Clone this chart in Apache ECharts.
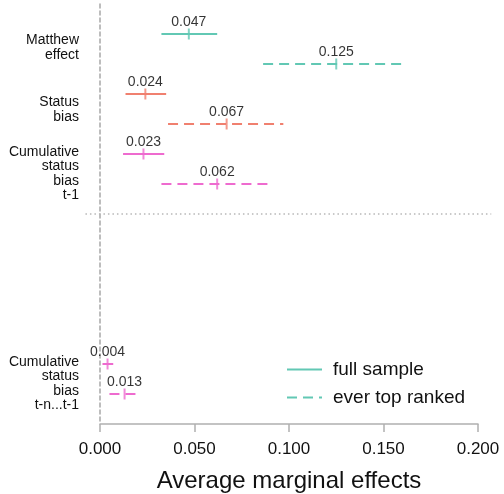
<!DOCTYPE html>
<html>
<head>
<meta charset="utf-8">
<script src="https://cdn.jsdelivr.net/npm/echarts@6/dist/echarts.min.js"></script>
<style>html,body{margin:0;padding:0;background:#fff}#c{width:504px;height:494px}</style>
</head>
<body>
<div id="c"></div>
<script>
// ---- data ----
const categories = ["Matthew\neffect", "Status\nbias", "Cumulative\nstatus\nbias\nt-1", "Cumulative\nstatus\nbias\nt-n...t-1"];
const fullEst = [0.047, 0.024, 0.023, 0.004];
const fullLo  = [0.0325, 0.0135, 0.0122, 0.0013];
const fullHi  = [0.062, 0.035, 0.034, 0.007];
const topEst  = [0.125, 0.067, 0.062, 0.013];
const topLo   = [0.0863, 0.036, 0.0325, 0.005];
const topHi   = [0.160, 0.097, 0.0895, 0.0193];
const fullRow = [0, 2, 4, 11];
const topRow  = [1, 3, 5, 12];
const labelRow = [0.45, 2.52, 4.65, 11.65];
const separatorRow = 6;
const separatorSpan = [-0.0077, 0.207];
const seriesNames = ["full sample", "ever top ranked"];
const colors = ["#62c8b4", "#f0806f", "#ee6bcf", "#ee6bcf"];

const FONT = "'Liberation Sans', Arial, Helvetica, sans-serif";
const chart = echarts.init(document.getElementById('c'));

const series = [];
for (let g = 0; g < 2; g++) {
  const est = g === 0 ? fullEst : topEst;
  const lo = g === 0 ? fullLo : topLo;
  const hi = g === 0 ? fullHi : topHi;
  const rows = g === 0 ? fullRow : topRow;
  for (let i = 0; i < categories.length; i++) {
    series.push({
      type: 'line',
      name: i === 0 ? seriesNames[g] : seriesNames[g] + '_' + i,
      data: [[lo[i], rows[i]], [hi[i], rows[i]]],
      symbol: 'none',
      color: colors[i],
      lineStyle: { color: colors[i], width: 2, type: g === 0 ? 'solid' : [10, 6] },
      silent: true,
      z: 3
    });
  }
  series.push({
    type: 'scatter',
    name: seriesNames[g] + '_pts',
    symbol: 'rect',
    symbolSize: [2, 11],
    data: est.map((v, i) => ({ value: [v, rows[i]], itemStyle: { color: colors[i] } })),
    label: {
      show: true, position: 'top', distance: -1,
      formatter: p => p.value[0].toFixed(3),
      fontFamily: FONT, fontSize: 14, color: '#000'
    },
    z: 4
  });
}
// separator dotted line
series.push({
  type: 'custom', name: 'sep', silent: true, clip: false,
  data: [[separatorSpan[0], separatorSpan[1], separatorRow]],
  renderItem: (params, api) => {
    const a = api.coord([api.value(0), api.value(2)]);
    const b = api.coord([api.value(1), api.value(2)]);
    return {
      type: 'line',
      shape: { x1: a[0], y1: a[1], x2: b[0], y2: b[1] },
      style: { stroke: '#b8b8b8', lineWidth: 1.5, lineDash: [1.5, 3] }
    };
  }
});

chart.setOption({
  animation: false,
  backgroundColor: '#fff',
  grid: { left: 100, right: 26, top: 4, height: 420, outerBoundsMode: 'none', containLabel: false },
  legend: {
    data: seriesNames,
    orient: 'vertical',
    left: 286, top: 360, padding: 0,
    itemWidth: 35, itemHeight: 14, itemGap: 9,
    itemStyle: { opacity: 0 },
    textStyle: { fontFamily: FONT, fontSize: 19, color: '#111', padding: [0, 0, 0, 6] },
    selectedMode: false
  },
  xAxis: {
    type: 'value', min: 0, max: 0.2, interval: 0.05, position: 'bottom',
    axisLine: { show: true, onZero: false, lineStyle: { color: '#b0b0b0', width: 1.5 } },
    axisTick: { show: true, length: 8, lineStyle: { color: '#b0b0b0', width: 1.5 } },
    splitLine: { show: false },
    axisLabel: { fontFamily: FONT, fontSize: 17, color: '#111', margin: 17,
      formatter: v => v.toFixed(3) },
    name: 'Average marginal effects', nameLocation: 'middle', nameGap: 45,
    nameTextStyle: { fontFamily: FONT, fontSize: 24, color: '#111' }
  },
  yAxis: {
    type: 'value', min: -1, max: 13, inverse: true,
    axisLine: { show: true, onZero: false, lineStyle: { color: '#a8a8a8', width: 1.5, type: [4, 3] } },
    axisTick: { show: false },
    splitLine: { show: false },
    axisLabel: {
      customValues: labelRow,
      formatter: v => { const k = labelRow.indexOf(v); return k >= 0 ? categories[k] : ''; },
      fontFamily: FONT, fontSize: 14, lineHeight: 14.5, color: '#111', margin: 21, align: 'right'
    }
  },
  series: series
});
</script>
</body>
</html>
